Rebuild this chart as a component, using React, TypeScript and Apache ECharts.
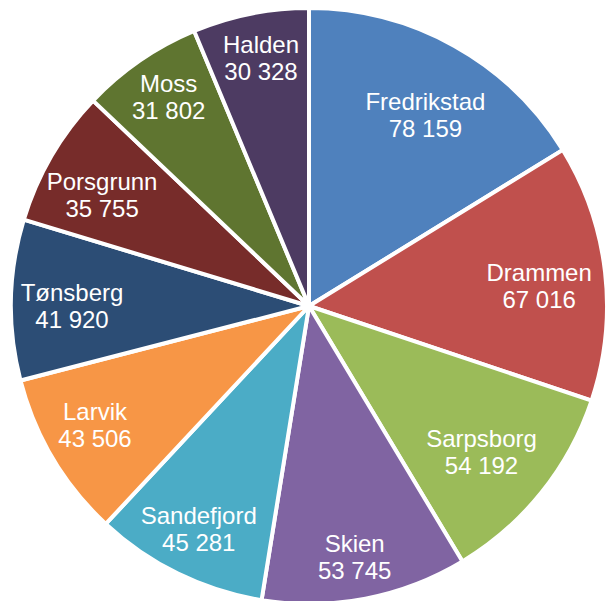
import React, { useEffect, useRef } from "react";
import * as echarts from "echarts";

const cities = ["Fredrikstad", "Drammen", "Sarpsborg", "Skien", "Sandefjord", "Larvik", "Tønsberg", "Porsgrunn", "Moss", "Halden"];
const population = [78159, 67016, 54192, 53745, 45281, 43506, 41920, 35755, 31802, 30328];
const colors = ["#4F81BD", "#C0504D", "#9BBB59", "#8064A2", "#4BACC6", "#F79646", "#2C4D75", "#772C2A", "#5F7530", "#4D3B62"];
// label placement (mimicking "inside end"): distance from centre in px and small clockwise angle shift in degrees
const labelDistance = [224, 231, 226, 255, 249, 245, 237, 235, 252, 253];
const labelAngleShift = [2.1, 1.6, 1.5, 0.6, 0.2, 1.6, -1.2, -1.9, 0.7, 0.4];

const CENTER: [number, number] = [309, 306];
const OUTER = 296;

function fmt(v: number): string {
  return String(v).replace(/\B(?=(\d{3})+(?!\d))/g, " ");
}

export default function App() {
  const ref = useRef<HTMLDivElement>(null);
  useEffect(() => {
    if (!ref.current) return;
    const chart = echarts.init(ref.current, null, { renderer: "svg" });
    const baseData = cities.map((c, i) => ({ name: c, value: population[i], itemStyle: { color: colors[i] } }));
    const labelSeries = cities.map((_, k) => {
      const r0 = Math.max(0, 2 * (labelDistance[k] - 3) - OUTER);
      return {
        type: "pie",
        center: CENTER,
        radius: [r0, OUTER],
        startAngle: 90 - labelAngleShift[k],
        clockwise: true,
        silent: true,
        avoidLabelOverlap: false,
        itemStyle: { color: "rgba(0,0,0,0)", borderWidth: 0 },
        emphasis: { disabled: true },
        labelLine: { show: false },
        label: {
          show: false,
          position: "inside",
          color: "#ffffff",
          fontFamily: "'Liberation Sans', Arial, sans-serif",
          fontSize: 24,
          lineHeight: 27,
          formatter: (p: any) => p.name + "\n" + fmt(p.value),
        },
        data: cities.map((c, i) => ({
          name: c,
          value: population[i],
          label: { show: i === k },
        })),
      };
    });
    chart.setOption({
      animation: false,
      backgroundColor: "#ffffff",
      series: [
        {
          type: "pie",
          center: CENTER,
          radius: [0, OUTER + 2],
          startAngle: 90,
          clockwise: true,
          avoidLabelOverlap: false,
          itemStyle: { borderColor: "#ffffff", borderWidth: 4 },
          label: { show: false },
          labelLine: { show: false },
          emphasis: { disabled: true },
          data: baseData,
        },
        ...labelSeries,
      ],
    } as any);
    return () => chart.dispose();
  }, []);
  return (
    <div
      ref={ref}
      style={{ position: "fixed", left: 0, top: 0, width: 609, height: 601 }}
    />
  );
}
